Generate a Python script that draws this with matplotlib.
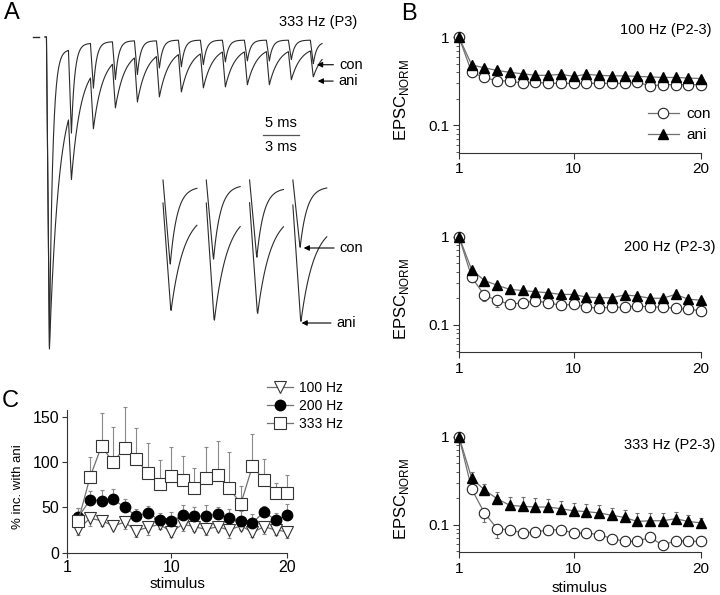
import numpy as np
import matplotlib
matplotlib.use('Agg')
import matplotlib.pyplot as plt
from matplotlib.ticker import FixedLocator, NullFormatter, FixedFormatter

plt.rcParams['font.family'] = ['Liberation Sans', 'DejaVu Sans']
plt.rcParams['mathtext.fontset'] = 'custom'
plt.rcParams['mathtext.rm'] = 'Liberation Sans'

# ---------------- data ----------------
# Panel A: 333 Hz train, normalised EPSC depths (peak, asymptotic level)
top_onsets_ms = [0, 3, 6, 9, 12, 15, 18, 21, 24, 27, 30, 33, 36]
top_con_peak = [1.00, 0.31, 0.165, 0.137, 0.121, 0.10, 0.096, 0.089, 0.080, 0.077, 0.077, 0.073, 0.086]
top_con_end = [0.04, 0.02, 0.015, 0.012, 0.012, 0.01, 0.01, 0.01, 0.01, 0.01, 0.01, 0.01, 0.016]
top_ani_peak = [1.00, 0.457, 0.294, 0.227, 0.208, 0.192, 0.176, 0.163, 0.160, 0.153, 0.153, 0.137, 0.128]
top_ani_end = [0.15, 0.08, 0.055, 0.042, 0.04, 0.035, 0.035, 0.03, 0.03, 0.03, 0.03, 0.03, 0.035]

# inset (expanded time base)
in_onsets_ms = [0, 3, 6, 9]
in_con_start = [0.05, 0.05, 0.05, 0.05]
in_con_peak = [0.90, 0.85, 0.83, 0.73]
in_con_end = [0.117, 0.10, 0.13, 0.117]
in_ani_start = [0.28, 0.28, 0.277, 0.30]
in_ani_peak = [1.37, 1.47, 1.40, 1.48]
in_ani_end = [0.367, 0.367, 0.38, 0.483]

# Panel B
stimulus = list(range(1, 21))
b100_con = [1.0, 0.40, 0.35, 0.32, 0.32, 0.30, 0.31, 0.30, 0.30, 0.30, 0.30, 0.30, 0.30, 0.30, 0.31, 0.28, 0.29, 0.29, 0.29, 0.29]
b100_ani = [1.0, 0.485, 0.45, 0.42, 0.40, 0.385, 0.37, 0.37, 0.38, 0.36, 0.38, 0.37, 0.365, 0.365, 0.36, 0.355, 0.35, 0.35, 0.345, 0.34]
b200_con = [1.0, 0.346, 0.216, 0.189, 0.171, 0.178, 0.186, 0.178, 0.166, 0.171, 0.159, 0.154, 0.159, 0.157, 0.164, 0.159, 0.159, 0.153, 0.15, 0.144]
b200_con_err = [0, 0.025, 0.03, 0.028, 0.012, 0.012, 0.015, 0.02, 0.01, 0.01, 0.008, 0.008, 0.008, 0.008, 0.008, 0.008, 0.008, 0.008, 0.008, 0.008]
b200_ani = [1.0, 0.42, 0.318, 0.281, 0.252, 0.245, 0.237, 0.231, 0.221, 0.221, 0.206, 0.203, 0.203, 0.218, 0.212, 0.2, 0.2, 0.221, 0.195, 0.19]
b333_con = [1.0, 0.253, 0.136, 0.090, 0.0876, 0.0805, 0.0826, 0.0876, 0.0876, 0.0805, 0.0805, 0.0772, 0.0696, 0.0648, 0.0648, 0.072, 0.0584, 0.066, 0.0648, 0.0648]
b333_con_err = [0, 0.01, 0.029, 0.019, 0.01, 0.008, 0.006, 0.006, 0.005, 0.005, 0.005, 0.005, 0.004, 0.004, 0.004, 0.004, 0.004, 0.004, 0.004, 0.004]
b333_ani = [1.0, 0.337, 0.249, 0.197, 0.166, 0.162, 0.159, 0.159, 0.152, 0.144, 0.141, 0.136, 0.128, 0.121, 0.109, 0.111, 0.111, 0.117, 0.109, 0.105]
b333_ani_err = [0, 0.058, 0.04, 0.038, 0.043, 0.047, 0.041, 0.038, 0.035, 0.032, 0.03, 0.032, 0.027, 0.027, 0.028, 0.026, 0.026, 0.023, 0.021, 0.015]

# Panel C
c_stim = list(range(2, 21))
c100 = [25.7, 37.9, 35.3, 29.8, 33.5, 24.3, 28.0, 31.3, 23.1, 31.3, 28.7, 25.7, 28.7, 25.0, 29.8, 22.4, 28.7, 25.0, 23.1]
c100_err = [6, 9, 6, 4, 7, 7, 8, 5, 6, 7, 5, 6, 5, 9, 5, 5, 8, 6, 7]
c200 = [39.4, 58, 57.4, 59, 50, 40.4, 44, 36, 35.3, 41.5, 40.4, 40.4, 42.6, 38.6, 35.3, 33, 45, 36, 41.5]
c200_err = [10, 10, 12, 11, 9, 8, 8, 8, 10, 11, 10, 12, 8, 10, 11, 10, 7, 8, 12]
c333 = [35.3, 83, 117.6, 99.6, 116, 103, 87.5, 75.4, 85, 80, 71, 82.4, 85.7, 71, 54, 95.6, 80, 66, 65.4]
c333_err = [14, 23, 36, 39, 45, 35, 33, 27, 32, 27, 22, 34, 38, 40, 20, 35, 23, 11, 20]

# ---------------- figure ----------------
W, H = 720, 595
fig = plt.figure(figsize=(7.2, 5.95), dpi=100)


def px_axes(x0, y0, x1, y1):
    return fig.add_axes([x0 / W, 1 - y1 / H, (x1 - x0) / W, (y1 - y0) / H])


TRACE = '#2b2b2b'
GRAY = '#707070'


def cycle(s, start, peak, end, tr, tau):
    v = np.where(s < tr, start + (peak - start) * s / tr,
                 end + (peak - end) * np.exp(-(s - tr) / tau))
    return -v


# ---- Panel A top traces ----
axA = px_axes(31.8, 21.35, 31.8 + 296.9, 21.35 + 334.9)
axA.set_xlim(-2, 38.5)
axA.set_ylim(-1.02, 0.05)
axA.axis('off')


def train(onsets, peaks, ends, tau, tr=0.4, tlast=1.6):
    ts, vs = [np.array([-0.2])], [np.array([0.0])]
    start = 0.0
    for k, (t0, p, e) in enumerate(zip(onsets, peaks, ends)):
        smax = 3.0 if k < len(onsets) - 1 else tlast
        s = np.linspace(0, smax, 90)
        v = cycle(s, start, p, e, tr, tau)
        ts.append(t0 + s)
        vs.append(v)
        start = -v[-1]
    return np.concatenate(ts), np.concatenate(vs)


t, v = train(top_onsets_ms, top_con_peak, top_con_end, 0.45)
axA.plot(t, v, color=TRACE, lw=0.8)
t, v = train(top_onsets_ms, top_ani_peak, top_ani_end, 1.3)
axA.plot(t, v, color=TRACE, lw=0.8)
axA.plot([-1.85, -1.0], [0, 0], color=TRACE, lw=1.0)

# scale bar
axA.plot([29.5, 34.5], [-0.313, -0.313], color='#555555', lw=0.9)
axA.text(32.0, -0.275, '5 ms', ha='center', va='center', fontsize=10.5)
axA.text(32.0, -0.351, '3 ms', ha='center', va='center', fontsize=10.5)

arrow = dict(arrowstyle='-|>', color='k', lw=0.8, mutation_scale=8, shrinkA=2, shrinkB=0)
axA.annotate('con', xy=(top_onsets_ms[-1] + 0.9, -top_con_peak[-1] * 1.03),
             xytext=(22, 0), textcoords='offset pixels', ha='left', va='center',
             fontsize=10.5, arrowprops=arrow)
axA.annotate('ani', xy=(top_onsets_ms[-1] + 1.0, -top_ani_peak[-1] * 1.1),
             xytext=(21, 0), textcoords='offset pixels', ha='left', va='center',
             fontsize=10.5, arrowprops=arrow)

# ---- Panel A inset ----
axI = px_axes(160.1, 175, 160.1 + 167.4, 330)
axI.set_xlim(-0.2, 11.4)
axI.set_ylim(-1.55, 0)
axI.axis('off')
s = np.linspace(0, 2.35, 80)
for k, t0 in enumerate(in_onsets_ms):
    axI.plot(t0 + s, cycle(s, in_con_start[k], in_con_peak[k], in_con_end[k], 0.5, 0.48),
             color=TRACE, lw=0.8)
    axI.plot(t0 + s, cycle(s, in_ani_start[k], in_ani_peak[k], in_ani_end[k], 0.55, 0.9),
             color=TRACE, lw=0.8)
axI.annotate('con', xy=(in_onsets_ms[-1] + 0.75, -in_con_peak[-1] * 1.0),
             xytext=(36, 0), textcoords='offset pixels', ha='left', va='center',
             fontsize=10.5, arrowprops=arrow)
axI.annotate('ani', xy=(in_onsets_ms[-1] + 0.6, -in_ani_peak[-1] * 1.0),
             xytext=(35, 0), textcoords='offset pixels', ha='left', va='center',
             fontsize=10.5, arrowprops=arrow)

fig.text(279 / W, 1 - 22 / H, '333 Hz (P3)', ha='left', va='center', fontsize=10.5)


# ---- Panel B ----
def style_axes(ax):
    for sp in ['top', 'right']:
        ax.spines[sp].set_visible(False)
    for sp in ['left', 'bottom']:
        ax.spines[sp].set_color('#333333')
        ax.spines[sp].set_linewidth(0.8)
    ax.tick_params(which='major', direction='out', length=4, width=0.8, color='#333333',
                   labelsize=11, pad=3)
    ax.tick_params(which='minor', direction='out', length=2.5, width=0.7, color='#555555')


b_boxes = [(459, 35.1, 701, 152.6), (459, 234.5, 701, 352), (459, 434.5, 701, 552)]
b_titles = ['100 Hz (P2-3)', '200 Hz (P2-3)', '333 Hz (P2-3)']
b_title_pos = [(711.7, 30), (715, 246.7), (715, 445)]
b_con = [b100_con, b200_con, b333_con]
b_ani = [b100_ani, b200_ani, b333_ani]
b_con_err = [None, b200_con_err, b333_con_err]
b_ani_err = [None, None, b333_ani_err]

for i in range(3):
    ax = px_axes(*b_boxes[i])
    ax.set_yscale('log')
    ax.set_xlim(1, 20)
    ax.set_ylim(0.049, 1.06)
    style_axes(ax)
    ax.xaxis.set_major_locator(FixedLocator([1, 10, 20]))
    ax.xaxis.set_major_formatter(FixedFormatter(['1', '10', '20']))
    ax.xaxis.set_minor_locator(FixedLocator([]))
    ax.yaxis.set_major_locator(FixedLocator([0.1, 1]))
    ax.yaxis.set_major_formatter(FixedFormatter(['0.1', '1']))
    ax.yaxis.set_minor_locator(FixedLocator([0.05, 0.06, 0.07, 0.08, 0.09, 0.2, 0.3, 0.4, 0.5,
                                             0.6, 0.7, 0.8, 0.9]))
    ax.yaxis.set_minor_formatter(NullFormatter())
    if b_con_err[i] is not None:
        ax.errorbar(stimulus, b_con[i], yerr=[b_con_err[i], [0] * 20], fmt='none',
                    ecolor=GRAY, elinewidth=0.8, capsize=1.5, capthick=0.8, zorder=2,
                    clip_on=False)
    if b_ani_err[i] is not None:
        ax.errorbar(stimulus, b_ani[i], yerr=[[0] * 20, b_ani_err[i]], fmt='none',
                    ecolor=GRAY, elinewidth=0.8, capsize=1.5, capthick=0.8, zorder=2,
                    clip_on=False)
    l1, = ax.plot(stimulus, b_con[i], '-o', color=GRAY, lw=0.9, mfc='white', mec='#222222',
                  mew=0.8, ms=7.5, clip_on=False, zorder=3, label='con')
    l2, = ax.plot(stimulus, b_ani[i], '-^', color=GRAY, lw=0.9, mfc='black', mec='black',
                  ms=7.5, clip_on=False, zorder=4, label='ani')
    ax.set_ylabel(r'EPSC$_{\mathregular{NORM}}$', fontsize=12)
    ax.yaxis.set_label_coords(-0.2, 0.45)
    fig.text(b_title_pos[i][0] / W, 1 - b_title_pos[i][1] / H, b_titles[i],
             ha='right', va='center', fontsize=10.5)
    if i == 0:
        ax.legend(handles=[l1, l2], loc='upper left', bbox_to_anchor=(648 / W, 1 - 107 / H),
                  bbox_transform=fig.transFigure, frameon=False, fontsize=11,
                  handlelength=2.0, handletextpad=0.5, borderpad=0, borderaxespad=0,
                  labelspacing=0.45)
    if i == 2:
        ax.set_xlabel('stimulus', fontsize=11, labelpad=4)

# ---- Panel C ----
axC = px_axes(66.7, 410, 287.3, 552.7)
axC.set_xlim(1, 20)
axC.set_ylim(0, 157.4)
style_axes(axC)
axC.xaxis.set_major_locator(FixedLocator([1, 10, 20]))
axC.yaxis.set_major_locator(FixedLocator([0, 50, 100, 150]))
axC.tick_params(which='major', labelsize=11.5, length=3.5, pad=2)
for yv, ye in [(c333, [[0] * 19, c333_err]), (c200, [[0] * 19, c200_err]),
               (c100, [c100_err, [0] * 19])]:
    eb = axC.errorbar(c_stim, yv, yerr=ye, fmt='none', ecolor='#8a8a8a',
                      elinewidth=0.8, capsize=1.5, capthick=0.8, zorder=2)
    for art in list(eb.lines[1]) + list(eb.lines[2]):
        art.set_clip_on(False)
h100, = axC.plot(c_stim, c100, '-v', color=GRAY, lw=0.9, mfc='white', mec='#333333',
                 mew=0.8, ms=8, zorder=3, label='100 Hz', clip_on=False)
h200, = axC.plot(c_stim, c200, '-o', color=GRAY, lw=0.9, mfc='black', mec='black',
                 ms=7.5, zorder=4, label='200 Hz', clip_on=False)
h333, = axC.plot(c_stim, c333, '-s', color=GRAY, lw=0.9, mfc='white', mec='#333333',
                 mew=0.8, ms=8.5, zorder=5, label='333 Hz', clip_on=False)
axC.set_xlabel('stimulus', fontsize=11, labelpad=1)
axC.set_ylabel('% inc. with ani', fontsize=9.5)
axC.yaxis.set_label_coords(-0.195, 0.465)
axC.legend(handles=[h100, h200, h333], loc='upper left', bbox_to_anchor=(267 / W, 1 - 381 / H),
           bbox_transform=fig.transFigure, frameon=False, fontsize=10,
           handlelength=1.9, handletextpad=0.4, borderpad=0, borderaxespad=0,
           labelspacing=0.3)

# panel letters
fig.text(12 / W, 1 - 13 / H, 'A', ha='center', va='center', fontsize=17)
fig.text(409 / W, 1 - 14 / H, 'B', ha='center', va='center', fontsize=17)
fig.text(10 / W, 1 - 401 / H, 'C', ha='center', va='center', fontsize=17)

fig.savefig('out.png', dpi=100)
